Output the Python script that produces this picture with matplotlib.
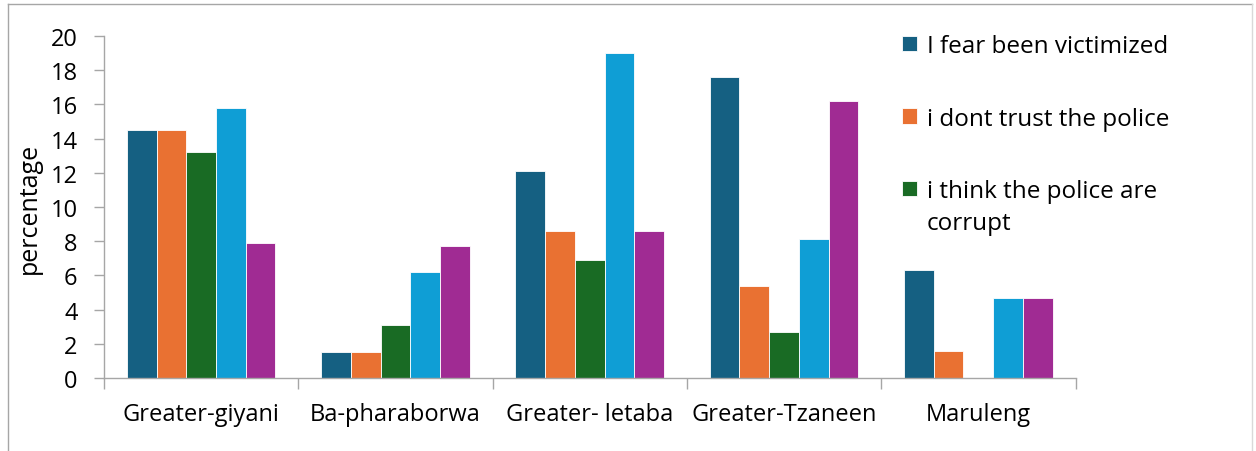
import matplotlib.pyplot as plt
import numpy as np
from matplotlib.lines import Line2D

plt.rcParams['font.family'] = ['Open Sans', 'DejaVu Sans']

# data
districts = ["Greater-giyani", "Ba-pharaborwa", "Greater- letaba", "Greater-Tzaneen", "Maruleng"]
fear_victimized = [14.5, 1.5, 12.1, 17.6, 6.3]
dont_trust = [14.5, 1.5, 8.6, 5.4, 1.6]
police_corrupt = [13.2, 3.1, 6.9, 2.7, 0.0]
series_4 = [15.8, 6.2, 19.0, 8.1, 4.7]
series_5 = [7.9, 7.7, 8.6, 16.2, 4.7]

labels = ["I fear been victimized", "i dont trust the police",
          "i think the police are corrupt", "series 4", "series 5"]
colors = ["#156082", "#E97132", "#196B24", "#0F9ED5", "#A02B93"]
all_series = [fear_victimized, dont_trust, police_corrupt, series_4, series_5]

fig = plt.figure(figsize=(12.56, 4.52), dpi=100)
ax = fig.add_axes([0.0828, 0.1615, 0.7735, 0.7567])

x = np.arange(len(districts))
bw = 0.153
bars = []
for i, (vals, c) in enumerate(zip(all_series, colors)):
    b = ax.bar(x + (i - 2) * bw, vals, bw, color=c, edgecolor='white', linewidth=0.6,
               label=labels[i], zorder=2)
    bars.append(b)

ax.set_xlim(-0.5, len(districts) - 0.5)
ax.set_ylim(0, 20)
ax.set_yticks(range(0, 21, 2))
ax.set_xticks(x)
ax.set_xticklabels(districts, fontsize=17)
ax.set_xticks(np.arange(-0.5, len(districts), 1), minor=True)
ax.tick_params(axis='x', which='major', length=0, pad=17)
ax.tick_params(axis='x', which='minor', length=8, color='#a6a6a6', width=1)
ax.tick_params(axis='y', length=7, color='#a6a6a6', width=1, labelsize=17, pad=12)
ax.set_ylabel("percentage", fontsize=18, labelpad=6)

for s in ['top', 'right']:
    ax.spines[s].set_visible(False)
for s in ['left', 'bottom']:
    ax.spines[s].set_color('#a6a6a6')
    ax.spines[s].set_linewidth(1)

# legend (only the first three entries fit in the original, last one wraps)
legend_text = ["I fear been victimized", "i dont trust the police", "i think the police are"]
leg = fig.legend(handles=bars[:3], labels=legend_text, loc='upper left',
                 bbox_to_anchor=(0.705, 0.96), frameon=False, fontsize=17.5,
                 handlelength=0.6, handleheight=0.6, handletextpad=0.4,
                 labelspacing=2.0, borderpad=0.2)

fig.canvas.draw()
bb = leg.get_texts()[2].get_window_extent()
x0, y0 = fig.transFigure.inverted().transform((bb.x0, bb.y0 - 32))
fig.text(x0, y0, "corrupt", fontsize=17.5, va='bottom', ha='left')

# outer chart border
fig.add_artist(Line2D([0.006, 0.997], [0.989, 0.989], color='#a6a6a6', lw=1))
fig.add_artist(Line2D([0.006, 0.006], [0.0, 0.989], color='#a6a6a6', lw=1))
fig.add_artist(Line2D([0.997, 0.997], [0.0, 0.989], color='#d9d9d9', lw=1))

fig.savefig("out.png", dpi=100)
